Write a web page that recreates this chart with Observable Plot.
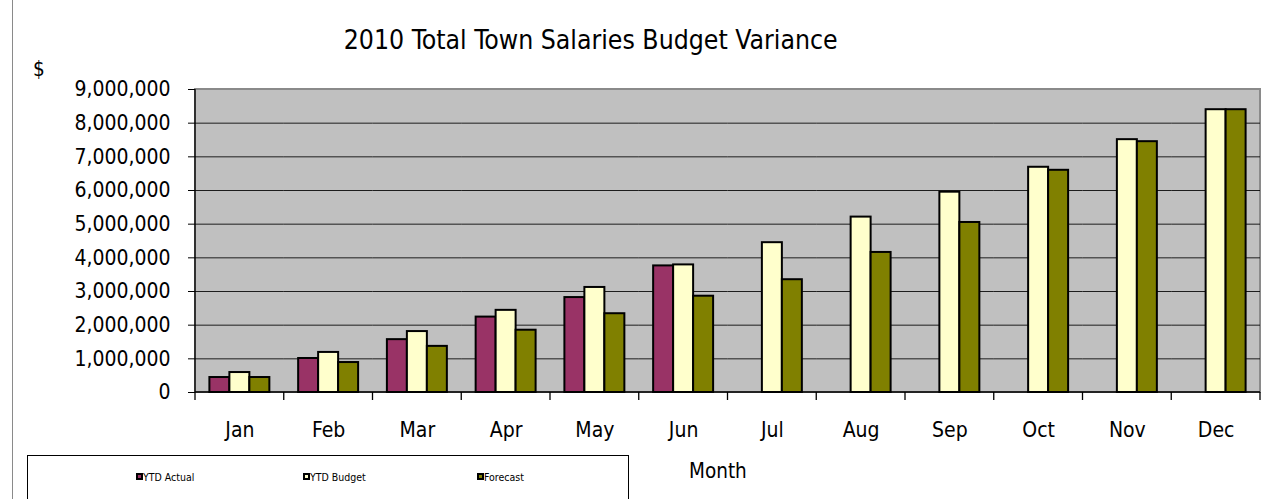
<!DOCTYPE html>
<html>
<head>
<meta charset="utf-8">
<script src="https://cdn.jsdelivr.net/npm/d3@7"></script>
<script src="https://cdn.jsdelivr.net/npm/@observablehq/plot@0.6"></script>
<style>
  body { margin: 0; background: #fff; }
  #wrap { position: relative; width: 1279px; height: 499px; overflow: hidden;
          font-family: "DejaVu Sans Condensed", "DejaVu Sans", sans-serif; color: #000; }
  #wrap svg { position: absolute; left: 0; top: 0; }
  .txt { position: absolute; white-space: nowrap; line-height: 1.164; }
  #leftline { position: absolute; left: 12px; top: 0; height: 499px; border-left: 1px solid #8a8a8a; }
  #legend { position: absolute; left: 27px; top: 455px; width: 602px; height: 80px; border: 1px solid #000; box-sizing: border-box; }
  .sw { position: absolute; width: 7px; height: 7px; border: 2px solid #000; box-sizing: border-box; }
</style>
</head>
<body>
<div id="wrap"></div>
<script>
// ---- data ----
const months = ["Jan","Feb","Mar","Apr","May","Jun","Jul","Aug","Sep","Oct","Nov","Dec"];
const seriesNames = ["YTD Actual","YTD Budget","Forecast"];
const seriesColors = ["#993366","#FFFFCC","#808000"];
const ytdActual = [445000,1010000,1570000,2240000,2820000,3760000,null,null,null,null,null,null];
const ytdBudget = [593000,1190000,1810000,2440000,3120000,3790000,4450000,5210000,5950000,6690000,7510000,8400000];
const forecast  = [445000,890000,1370000,1850000,2340000,2860000,3350000,4160000,5050000,6600000,7450000,8400000];
const yTicks = [0,1000000,2000000,3000000,4000000,5000000,6000000,7000000,8000000,9000000];
const titleText = "2010 Total Town Salaries Budget Variance";
const yLabel = "$";
const xLabel = "Month";

const seriesValues = [ytdActual, ytdBudget, forecast];
const data = months.flatMap((m, i) =>
  seriesNames.map((s, k) => ({month: m, series: s, value: seriesValues[k][i]}))
).filter(d => d.value != null);

const FONT = "'DejaVu Sans Condensed', 'DejaVu Sans', sans-serif";

const chart = Plot.plot({
  width: 1279,
  height: 499,
  marginLeft: 195,
  marginRight: 19,
  marginTop: 89,
  marginBottom: 107,
  style: {fontFamily: FONT, fontSize: "21px", color: "#000", background: "transparent", overflow: "visible"},
  fx: {domain: months, padding: 0, round: false, label: null, axis: "bottom", tickSize: 0, tickPadding: 30},
  x: {domain: seriesNames, paddingInner: 0, paddingOuter: 0.72, round: false, axis: null},
  y: {domain: [0, 9000000], ticks: yTicks, tickFormat: d3.format(","), tickSize: 7, tickPadding: 18, label: null},
  color: {domain: seriesNames, range: seriesColors},
  marks: [
    Plot.gridY(yTicks.slice(1, -1), {stroke: "#000", strokeOpacity: 0.85, strokeWidth: 1}),
    Plot.barY(data, {fx: "month", x: "series", y: "value", fill: "series", stroke: "#000", strokeWidth: 2})
  ]
});

// plot-area background, border, axis lines and category ticks, derived from the chart's scales
const svg = d3.select(chart);
const fxs = chart.scale("fx"), ys = chart.scale("y");
const x0 = fxs.apply(months[0]);
const x1 = fxs.apply(months[months.length - 1]) + fxs.bandwidth;
const yTop = ys.apply(yTicks[yTicks.length - 1]);
const yBase = ys.apply(0);
svg.insert("rect", "g")
  .attr("x", x0).attr("y", yTop).attr("width", x1 - x0).attr("height", yBase - yTop)
  .attr("fill", "#c0c0c0").attr("stroke", "#8a8a8a").attr("stroke-width", 2);
const over = svg.append("g").attr("stroke", "#000").attr("stroke-width", 1.3);
over.append("line").attr("x1", x0).attr("x2", x0).attr("y1", yTop).attr("y2", yBase);
over.append("line").attr("x1", x0).attr("x2", x1).attr("y1", yBase).attr("y2", yBase);
const bounds = months.map(m => fxs.apply(m)).concat([x1]);
over.selectAll(null).data(bounds).join("line")
  .attr("x1", d => d).attr("x2", d => d).attr("y1", yBase).attr("y2", yBase + 8);

const wrap = document.getElementById("wrap");
wrap.appendChild(chart);

function addText(txt, css) {
  const d = document.createElement("div");
  d.className = "txt";
  d.textContent = txt;
  Object.assign(d.style, css);
  wrap.appendChild(d);
  return d;
}
const ll = document.createElement("div"); ll.id = "leftline"; wrap.appendChild(ll);
addText(titleText, {left: "590.7px", top: "25px", fontSize: "26.4px", transform: "translateX(-50%)"});
addText(yLabel, {left: "33px", top: "58.3px", fontSize: "20.5px"});
addText(xLabel, {left: "689px", top: "460.3px", fontSize: "20.5px"});

// legend
const legend = document.createElement("div"); legend.id = "legend"; wrap.appendChild(legend);
const legendLefts = [143, 310, 484];
seriesNames.forEach((s, i) => {
  const sw = document.createElement("div");
  sw.className = "sw";
  sw.style.left = (legendLefts[i] - 7) + "px";
  sw.style.top = "473px";
  sw.style.background = seriesColors[i];
  wrap.appendChild(sw);
  addText(s, {left: legendLefts[i] + "px", top: "471px", fontSize: "10.5px"});
});
</script>
</body>
</html>
